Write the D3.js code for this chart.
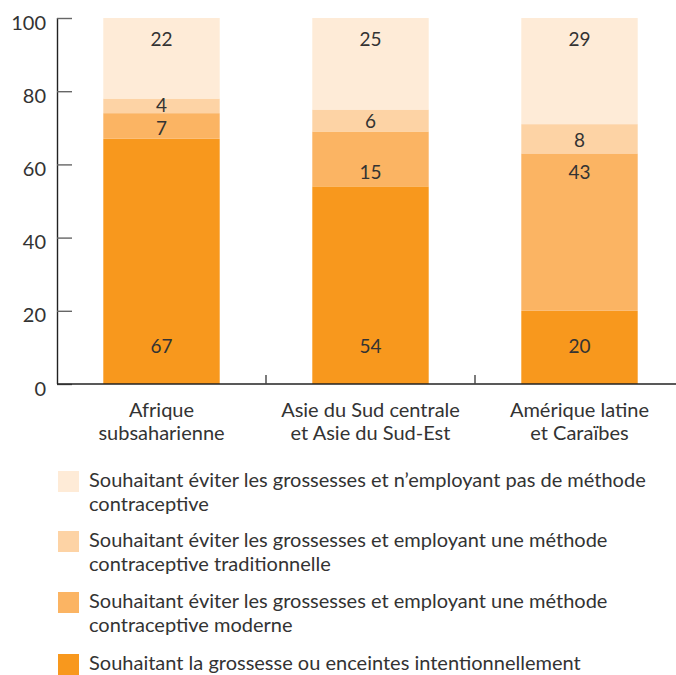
<!DOCTYPE html>
<html><head><meta charset="utf-8">
<script src="https://cdn.jsdelivr.net/npm/d3@7"></script>
<style>
body{margin:0;background:#fff;}
svg{display:block;font-family:Lato,"Open Sans",sans-serif;}
</style></head>
<body><svg id="c" width="676" height="675"></svg>
<script>
// ---- data ----
const categories = ["Afrique subsaharienne", "Asie du Sud centrale et Asie du Sud-Est", "Amérique latine et Caraïbes"];
const categoryLines = [["Afrique", "subsaharienne"], ["Asie du Sud centrale", "et Asie du Sud-Est"], ["Amérique latine", "et Caraïbes"]];
const seriesKeys = ["intended", "modern", "traditional", "none"];
const intended = [67, 54, 20];
const modern = [7, 15, 43];
const traditional = [4, 6, 8];
const none = [22, 25, 29];
const legendLines = {
  none: ["Souhaitant éviter les grossesses et n\u2019employant pas de méthode", "contraceptive"],
  traditional: ["Souhaitant éviter les grossesses et employant une méthode", "contraceptive traditionnelle"],
  modern: ["Souhaitant éviter les grossesses et employant une méthode", "contraceptive moderne"],
  intended: ["Souhaitant la grossesse ou enceintes intentionnellement"]
};
const yTicks = [0, 20, 40, 60, 80, 100];
const colors = {none: "#FEEBD7", traditional: "#FDD3A5", modern: "#FBB463", intended: "#F8981D"};

const values = {intended, modern, traditional, none};
const table = categories.map((c, i) => {
  const row = {cat: c};
  seriesKeys.forEach(k => row[k] = values[k][i]);
  return row;
});

const svg = d3.select("#c");
const x = d3.scaleBand().domain(categories).range([57, 684]).paddingInner(0.443).paddingOuter(0.2215);
const y = d3.scaleLinear().domain([0, 100]).range([384, 18]);

const stacked = d3.stack().keys(seriesKeys)(table);

// bars
const g = svg.append("g");
stacked.forEach(s => {
  g.selectAll(null).data(s).join("rect")
    .attr("x", d => x(d.data.cat))
    .attr("width", x.bandwidth())
    .attr("y", d => y(d[1]))
    .attr("height", d => y(d[0]) - y(d[1]))
    .attr("fill", colors[s.key]);
});

// bar labels: compute centre positions, then separate labels that would collide
const last = seriesKeys.length - 1;
const minGap = 23.5;
categories.forEach((c, ci) => {
  const labs = stacked.map((s, si) => {
    const d = s[ci];
    const top = y(d[1]), bot = y(d[0]);
    let cy;
    if (si === 0) cy = bot - 37.5;
    else if (si === last) cy = top + 21;
    else if (bot - top > 40) cy = Math.max(top + 18, Math.min(bot - 13, y(58)));
    else cy = (top + bot) / 2 + 1;
    return {cy, v: d[1] - d[0]};
  });
  // sort by y (top first) and push apart
  const sorted = labs.slice().sort((a, b) => a.cy - b.cy);
  for (let i = 1; i < sorted.length; i++) {
    const gap = sorted[i].cy - sorted[i - 1].cy;
    if (gap < minGap) {
      const push = (minGap - gap) / 2;
      sorted[i - 1].cy -= push;
      sorted[i].cy += push;
    }
  }
  labs.forEach(l => {
    g.append("text")
      .attr("x", x(c) + x.bandwidth() / 2)
      .attr("y", l.cy)
      .attr("dy", "0.36em")
      .attr("text-anchor", "middle")
      .attr("font-size", 19)
      .attr("fill", "#333")
      .text(l.v);
  });
});

// y axis
const ya = svg.append("g").attr("transform", "translate(57,0)")
  .call(d3.axisRight(y).tickValues(yTicks).tickSize(15).tickSizeOuter(0).tickPadding(0));
ya.select(".domain").attr("stroke", "#222").attr("stroke-width", 1.4).attr("d", "M0.5," + y(100) + "V" + y(0));
ya.selectAll(".tick line").attr("stroke", "#666").attr("stroke-width", 1.4);
ya.selectAll(".tick text").attr("x", -11).attr("dy", "0.55em").attr("text-anchor", "end")
  .attr("font-size", 20).attr("fill", "#333").attr("font-family", "Lato, sans-serif");

// x axis line
svg.append("line").attr("x1", 57).attr("x2", 676).attr("y1", y(0)).attr("y2", y(0))
  .attr("stroke", "#222").attr("stroke-width", 1.4);
// separator ticks between categories
categories.slice(0, -1).forEach(c => {
  const bx = x(c) + x.bandwidth() + x.step() * x.paddingInner() / 2;
  svg.append("line").attr("x1", bx).attr("x2", bx).attr("y1", y(0)).attr("y2", y(0) - 9)
    .attr("stroke", "#444").attr("stroke-width", 1.4);
});

// category labels
categories.forEach((c, i) => {
  const t = svg.append("text").attr("x", x(c) + x.bandwidth() / 2).attr("y", 417)
    .attr("text-anchor", "middle").attr("font-size", 20).attr("fill", "#333");
  categoryLines[i].forEach((ln, j) => t.append("tspan").attr("x", x(c) + x.bandwidth() / 2).attr("dy", j ? 23 : 0).text(ln));
});

// legend
const legendOrder = ["none", "traditional", "modern", "intended"];
const legendTops = [471, 531, 592, 654];
legendOrder.forEach((k, i) => {
  const top = legendTops[i];
  svg.append("rect").attr("x", 58).attr("y", top).attr("width", 21).attr("height", 21).attr("fill", colors[k]);
  const t = svg.append("text").attr("x", 89).attr("y", top + 16).attr("font-size", 20).attr("fill", "#333");
  legendLines[k].forEach((ln, j) => t.append("tspan").attr("x", 89).attr("dy", j ? 23.5 : 0).text(ln));
});
</script></body></html>
